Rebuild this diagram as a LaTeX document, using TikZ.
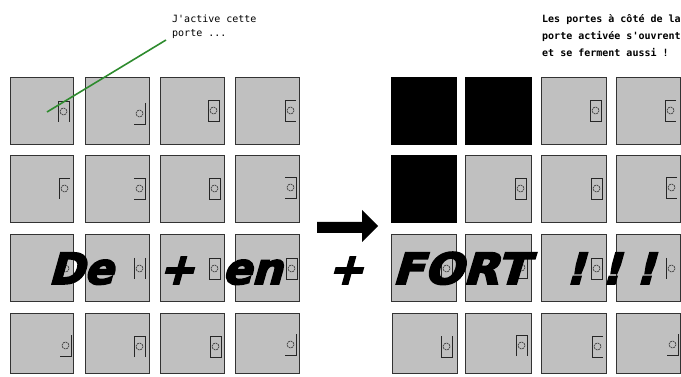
\documentclass[tikz,border=0pt]{standalone}
\usepackage{fontspec}
\newfontfamily\bigfont[FakeSlant=0.28, FakeBold=4]{DejaVu Sans Bold}
\newfontfamily\pixfont{DejaVu Sans Mono}
\definecolor{doorgray}{HTML}{C0C0C0}
\definecolor{pointgreen}{HTML}{2E8B2E}
\newcommand\hFull{(0,0) rectangle (11,21)}
\newcommand\hLbr{(11,0) -- (0,0) -- (0,21) -- (11,21)}
\newcommand\hRbr{(0,0) -- (11,0) -- (11,21) -- (0,21)}
\newcommand\hAng{(11,0) -- (11,21) -- (0,21)}
\newcommand\hTl{(0,21) -- (0,0) -- (11,0)}
\newcommand\hCap{(0,21) -- (0,0) -- (11,0) -- (11,21)}
\newcommand\hCup{(0,0) -- (0,21) -- (11,21) -- (11,0)}
\newcommand\hPar{(0,0) -- (0,21) (11,0) -- (11,21)}
\newcommand\hLft{(0,0) -- (0,21)}
\newcommand\door[6]{\node[doorbox, minimum width=#4pt, minimum height=#5pt, #6] (#1) at (#2,#3) {};}
\newcommand\hdl[3]{\begin{scope}[shift={(#1,#2)}]\draw[hline] #3;\draw[hcirc] (5.5,10.5) circle (3.5);\end{scope}}
\begin{document}
\begin{tikzpicture}[x=1pt,y=-1pt,
  doorbox/.style={anchor=north west, inner sep=0pt, outer sep=0pt, draw=black!80, line width=0.9pt, fill=doorgray},
  opened/.style={fill=black, draw=black},
  hline/.style={draw=black!85, line width=0.9pt},
  hcirc/.style={draw=black!75, line width=0.8pt, dash pattern=on 1.8pt off 0.9pt},
  small/.style={font=\pixfont\fontsize{10}{12}\selectfont, inner sep=0pt, anchor=base west},
  smallbold/.style={small, font=\pixfont\bfseries\fontsize{10}{12}\selectfont},
  big/.style={font=\bigfont\fontsize{43}{50}\selectfont, inner sep=0pt, anchor=base west}]
\useasboundingbox (0,0) rectangle (681,377);
% left grid
\door{L11}{10}{77}{63}{67}{}
\door{L12}{85}{77}{64}{67}{}
\door{L13}{160}{77}{64}{67}{}
\door{L14}{235}{77}{64}{67}{}
\door{L21}{10}{155}{63}{67}{}
\door{L22}{85}{155}{64}{67}{}
\door{L23}{160}{155}{64}{67}{}
\door{L24}{235}{155}{64}{67}{}
\door{L31}{10}{234}{63}{67}{}
\door{L32}{85}{234}{64}{67}{}
\door{L33}{160}{234}{64}{67}{}
\door{L34}{235}{234}{64}{67}{}
\door{L41}{10}{313}{63}{60}{}
\door{L42}{85}{313}{64}{60}{}
\door{L43}{160}{313}{64}{60}{}
\door{L44}{235}{313}{64}{60}{}
% right grid
\door{R11}{391}{77}{65}{67}{opened}
\door{R12}{465}{77}{66}{67}{opened}
\door{R13}{541}{77}{65}{67}{}
\door{R14}{616}{77}{64}{67}{}
\door{R21}{391}{155}{65}{67}{opened}
\door{R22}{465}{155}{66}{67}{}
\door{R23}{541}{155}{65}{67}{}
\door{R24}{616}{155}{64}{67}{}
\door{R31}{391}{234}{65}{67}{}
\door{R32}{465}{234}{66}{67}{}
\door{R33}{541}{234}{65}{67}{}
\door{R34}{616}{234}{64}{67}{}
\door{R41}{392}{313}{65}{60}{}
\door{R42}{465}{313}{66}{60}{}
\door{R43}{541}{313}{65}{60}{}
\door{R44}{616}{313}{64}{60}{}
% handles left
\hdl{58}{101}{\hCap}
\hdl{134}{103}{\hAng}
\hdl{208}{100}{\hFull}
\hdl{285}{100}{\hLbr}
\hdl{59}{178}{\hTl}
\hdl{134}{178}{\hRbr}
\hdl{209}{178}{\hFull}
\hdl{285}{177}{\hRbr}
\hdl{60}{258}{\hTl}
\hdl{134}{258}{\hPar}
\hdl{209}{258}{\hFull}
\hdl{286}{258}{\hFull}
\hdl{60}{335}{\hAng}
\hdl{134}{336}{\hCap}
\hdl{210}{336}{\hFull}
\hdl{285}{334}{\hAng}
% handles right
\hdl{590}{100}{\hFull}
\hdl{665}{100}{\hLbr}
\hdl{515}{178}{\hFull}
\hdl{591}{178}{\hFull}
\hdl{666}{177}{\hLbr}
\hdl{441}{258}{\hFull}
\hdl{516}{257}{\hFull}
\hdl{591}{258}{\hFull}
\hdl{666}{258}{\hLft}
\hdl{441}{336}{\hCup}
\hdl{516}{335}{\hCap}
\hdl{592}{336}{\hLbr}
\hdl{667}{334}{\hAng}
% texts
\node[small] (t1) at (172,23) {J'active cette};
\node[small] (t2) at (172,37) {porte ...};
\node[smallbold] (r1) at (542,23) {Les portes à côté de la};
\node[smallbold] (r2) at (542,40) {porte activée s'ouvrent};
\node[smallbold] (r3) at (542,57) {et se ferment aussi !};
% pointer
\coordinate (gA) at (166,40);
\coordinate (gB) at (47,112);
\draw[pointgreen, line width=1.6pt] (gA) -- (gB);
% arrow
\fill[black] (317,222) -- (362,222) -- (362,210) -- (378,226) -- (362,242) -- (362,233) -- (317,233) -- cycle;
% big text
\node[big] (w1) at (48,284) {De};
\node[big] (w2) at (158,284) {+};
\node[big] (w3) at (222,284) {en};
\node[big] (w4) at (327,284) {+};
\node[big, xscale=1.07] (w5) at (392,284) {FORT};
\node[big] (w6) at (565,284) {!};
\node[big] (w7) at (601,284) {!};
\node[big] (w8) at (635,284) {!};
\end{tikzpicture}
\end{document}
